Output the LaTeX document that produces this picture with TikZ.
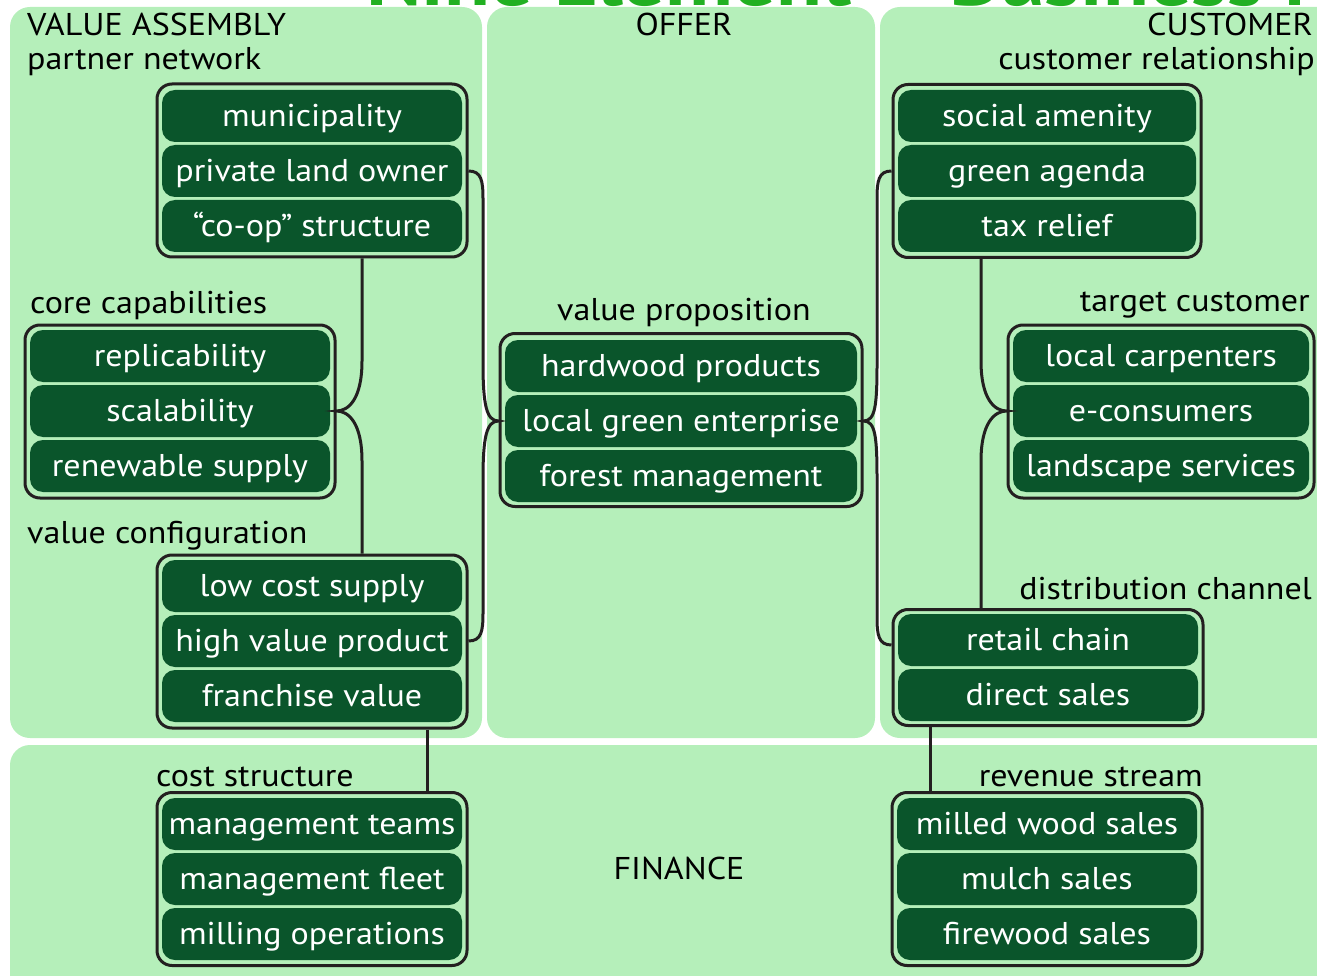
\documentclass[tikz,border=0pt]{standalone}
\usepackage{fontspec}
\setmainfont{PT Sans}[FakeStretch=1.08]
\usetikzlibrary{calc}
\definecolor{panelgreen}{RGB}{181,239,186}
\definecolor{rowgreen}{RGB}{10,85,43}
\definecolor{titlegreen}{RGB}{34,176,34}
\definecolor{linkcol}{RGB}{35,31,32}

\begin{document}
\begin{tikzpicture}[x=1pt,y=-1pt,
  panel/.style={fill=panelgreen, rounded corners=20pt},
  grp/.style={draw=linkcol, line width=3pt, fill=panelgreen, rounded corners=15pt,
    inner sep=0pt, minimum width=310pt, minimum height=173pt},
  row/.style={fill=rowgreen, text=white, rounded corners=13pt, inner sep=0pt,
    minimum width=300pt, minimum height=52pt, text height=21pt, text depth=0pt,
    font=\fontsize{31.5}{31.5}\selectfont},
  lbl/.style={font=\fontsize{31.5}{31.5}\selectfont, inner sep=0pt},
  link/.style={draw=linkcol, line width=3pt},
]
\clip (0,0) rectangle (1317,976);

% title strip
\begin{scope}
  \clip (0,0) rectangle (1317,7);
  \node[anchor=base west, inner sep=0pt, text=titlegreen,
    font=\fontsize{78}{78}\selectfont\bfseries] (title) at (366,6) {Nine Element – Business Model};
\end{scope}

% section panels
\fill[panel] (10,7) rectangle (482,738);
\fill[panel] (487,7) rectangle (875,738);
\fill[panel] (880,7) rectangle (1360,738);
\fill[panel] (10,745) rectangle (1360,1010);

% section headings
\node[lbl, anchor=base west] (hva) at (27,36) {VALUE ASSEMBLY};
\node[lbl, anchor=base] (hof) at (684,36) {OFFER};
\node[lbl, anchor=base east] (hcu) at (1313,36) {CUSTOMER};
\node[lbl, anchor=base] (hfi) at (679,879) {FINANCE};

% element labels
\node[lbl, anchor=base west] (lpn) at (27,70) {partner network};
\node[lbl, anchor=base west] (lcc) at (30,313) {core capabilities};
\node[lbl, anchor=base west] (lvc) at (27,543) {value configuration};
\node[lbl, anchor=base] (lvp) at (684,320) {value proposition};
\node[lbl, anchor=base east] (lcr) at (1315,70) {customer relationship};
\node[lbl, anchor=base east] (ltc) at (1310,312) {target customer};
\node[lbl, anchor=base east] (ldc) at (1312,599) {distribution channel};
\node[lbl, anchor=base west] (lcs) at (156,786) {cost structure};
\node[lbl, anchor=base east] (lrs) at (1203,786) {revenue stream};

% partner network
\node[grp] (pn) at (312,170.5) {};
\node[row] (pn1) at (312,116) {municipality};
\node[row] (pn2) at (312,171) {private land owner};
\node[row] (pn3) at (312,226) {“co-op” structure};

% core capabilities
\node[grp] (cc) at (180,411.5) {};
\node[row] (cc1) at (180,356) {replicability};
\node[row] (cc2) at (180,411) {scalability};
\node[row] (cc3) at (180,466) {renewable supply};

% value configuration
\node[grp] (vc) at (312,641.5) {};
\node[row] (vc1) at (312,586) {low cost supply};
\node[row] (vc2) at (312,641) {high value product};
\node[row] (vc3) at (312,696) {franchise value};

% value proposition
\node[grp, minimum width=362pt] (vp) at (681,420) {};
\node[row, minimum width=352pt] (vp1) at (681,366) {hardwood products};
\node[row, minimum width=352pt] (vp2) at (681,421) {local green enterprise};
\node[row, minimum width=352pt] (vp3) at (681,476) {forest management};

% customer relationship
\node[grp, minimum width=308pt] (cr) at (1047,171) {};
\node[row, minimum width=298pt] (cr1) at (1047,116) {social amenity};
\node[row, minimum width=298pt] (cr2) at (1047,171) {green agenda};
\node[row, minimum width=298pt] (cr3) at (1047,226) {tax relief};

% target customer
\node[grp, minimum width=306pt] (tc) at (1161,411.5) {};
\node[row, minimum width=296pt] (tc1) at (1161,356) {local carpenters};
\node[row, minimum width=296pt] (tc2) at (1161,411) {e-consumers};
\node[row, minimum width=296pt] (tc3) at (1161,466) {landscape services};

% distribution channel
\node[grp, minimum height=116pt] (dc) at (1048,667.5) {};
\node[row] (dc1) at (1048,640) {retail chain};
\node[row] (dc2) at (1048,695) {direct sales};

% cost structure
\node[grp] (cs) at (312,879) {};
\node[row] (cs1) at (312,824) {management teams};
\node[row] (cs2) at (312,879) {management fleet};
\node[row] (cs3) at (312,934) {milling operations};

% revenue stream
\node[grp] (rs) at (1047,879) {};
\node[row] (rs1) at (1047,824) {milled wood sales};
\node[row] (rs2) at (1047,879) {mulch sales};
\node[row] (rs3) at (1047,934) {firewood sales};

% connector columns
\coordinate (busA) at (483,0);
\coordinate (busB) at (362,0);
\coordinate (busC) at (877,0);
\coordinate (busD) at (981,0);
\coordinate (busE) at (427,0);
\coordinate (busF) at (930,0);

% assembly to offer
\draw[link] (pn.east |- pn2) .. controls +(13,0) and +(0,-18) .. ($(busA |- pn2)+(0,28)$)
  -- ($(busA |- vp2)+(0,-58)$) .. controls +(0,42) and +(-12,0) .. (vp.west |- vp2)
  .. controls +(-12,0) and +(0,-42) .. ($(busA |- vp2)+(0,58)$)
  -- ($(busA |- vc2)+(0,-28)$) .. controls +(0,18) and +(13,0) .. (vc.east |- vc2);

% partner network, core capabilities, value configuration
\draw[link] (busB |- pn.south) -- ($(busB |- cc2)+(0,-50)$)
  .. controls +(0,38) and +(12,0) .. (cc.east |- cc2)
  .. controls +(12,0) and +(0,-38) .. ($(busB |- cc2)+(0,50)$)
  -- (busB |- vc.north);

% offer to customer
\draw[link] (cr.west |- cr2) .. controls +(-13,0) and +(0,-18) .. ($(busC |- cr2)+(0,28)$)
  -- ($(busC |- vp2)+(0,-58)$) .. controls +(0,42) and +(12,0) .. (vp.east |- vp2)
  .. controls +(12,0) and +(0,-42) .. ($(busC |- vp2)+(0,58)$)
  -- ($(busC |- dc1)+(0,-23)$) .. controls +(0,18) and +(-13,0) .. ($(dc.west |- dc1)+(0,5)$);

% customer relationship, target customer, distribution channel
\draw[link] (busD |- cr.south) -- ($(busD |- tc2)+(0,-50)$)
  .. controls +(0,38) and +(-12,0) .. (tc.west |- tc2)
  .. controls +(-12,0) and +(0,-38) .. ($(busD |- tc2)+(0,50)$)
  -- (busD |- dc.north);

% into finance
\draw[link] (busE |- vc.south) -- (busE |- cs.north);
\draw[link] (busF |- dc.south) -- (busF |- rs.north);

\end{tikzpicture}
\end{document}
